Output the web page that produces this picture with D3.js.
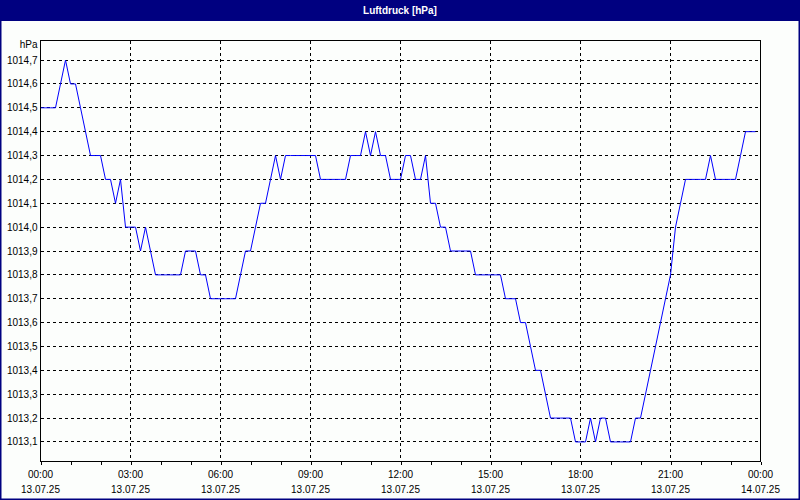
<!DOCTYPE html>
<html>
<head>
<meta charset="utf-8">
<script src="https://cdn.jsdelivr.net/npm/d3@7"></script>
<style>
    body { margin: 0; background: #fcfefc; }
    .chart text { font-family: "Liberation Sans", Arial, sans-serif; font-size: 10px; fill: #000; }
</style>
</head>
<body>
<div class="chart"></div>
<script>
// Luftdruck chart, 13.07.25

// chart data (10 minute readings, hPa)
var startTime = new Date(2025, 6, 13, 0, 0);
var stepMinutes = 10;
var pressure = [
    1014.5, 1014.5, 1014.5, 1014.5, 1014.6, 1014.7, 1014.6, 1014.6, 1014.5, 1014.4,
    1014.3, 1014.3, 1014.3, 1014.2, 1014.2, 1014.1, 1014.2, 1014.0, 1014.0, 1014.0,
    1013.9, 1014.0, 1013.9, 1013.8, 1013.8, 1013.8, 1013.8, 1013.8, 1013.8, 1013.9,
    1013.9, 1013.9, 1013.8, 1013.8, 1013.7, 1013.7, 1013.7, 1013.7, 1013.7, 1013.7,
    1013.8, 1013.9, 1013.9, 1014.0, 1014.1, 1014.1, 1014.2, 1014.3, 1014.2, 1014.3,
    1014.3, 1014.3, 1014.3, 1014.3, 1014.3, 1014.3, 1014.2, 1014.2, 1014.2, 1014.2,
    1014.2, 1014.2, 1014.3, 1014.3, 1014.3, 1014.4, 1014.3, 1014.4, 1014.3, 1014.3,
    1014.2, 1014.2, 1014.2, 1014.3, 1014.3, 1014.2, 1014.2, 1014.3, 1014.1, 1014.1,
    1014.0, 1014.0, 1013.9, 1013.9, 1013.9, 1013.9, 1013.9, 1013.8, 1013.8, 1013.8,
    1013.8, 1013.8, 1013.8, 1013.7, 1013.7, 1013.7, 1013.6, 1013.6, 1013.5, 1013.4,
    1013.4, 1013.3, 1013.2, 1013.2, 1013.2, 1013.2, 1013.2, 1013.1, 1013.1, 1013.1,
    1013.2, 1013.1, 1013.2, 1013.2, 1013.1, 1013.1, 1013.1, 1013.1, 1013.1, 1013.2,
    1013.2, 1013.3, 1013.4, 1013.5, 1013.6, 1013.7, 1013.8, 1014.0, 1014.1, 1014.2,
    1014.2, 1014.2, 1014.2, 1014.2, 1014.3, 1014.2, 1014.2, 1014.2, 1014.2, 1014.2,
    1014.3, 1014.4, 1014.4, 1014.4
];
var yTicks = [1013.1, 1013.2, 1013.3, 1013.4, 1013.5, 1013.6, 1013.7, 1013.8,
    1013.9, 1014.0, 1014.1, 1014.2, 1014.3, 1014.4, 1014.5, 1014.6, 1014.7];
var titleText = "Luftdruck [hPa]";
var unitText = "hPa";

var svgWidth = 800;
var svgHeight = 500;

var margin = { top: 40, right: 40, bottom: 39, left: 40 };
var width = svgWidth - margin.left - margin.right;
var height = svgHeight - margin.top - margin.bottom;

var svg = d3.select(".chart")
    .append("svg")
    .attr("width", svgWidth)
    .attr("height", svgHeight)
    .style("display", "block");

// window frame + title bar
svg.append("rect")
    .attr("x", 0.5).attr("y", 0.5)
    .attr("width", svgWidth - 1).attr("height", svgHeight - 1)
    .attr("fill", "#fcfefc")
    .attr("stroke", "#000080")
    .attr("stroke-width", 2);

svg.append("rect")
    .attr("x", 0).attr("y", 0)
    .attr("width", svgWidth).attr("height", 21)
    .attr("fill", "#000080");

svg.append("text")
    .attr("x", svgWidth / 2)
    .attr("y", 14)
    .attr("text-anchor", "middle")
    .style("fill", "#fff")
    .style("font-weight", "bold")
    .text(titleText);

var data = pressure.map(function (v, i) {
    return { time: d3.timeMinute.offset(startTime, i * stepMinutes), value: v };
});

var chartGroup = svg.append("g")
    .attr("transform", `translate(${margin.left + 0.5}, ${margin.top + 0.5})`);

// Step 1: scales
var xTimeScale = d3.scaleTime()
    .domain([startTime, d3.timeDay.offset(startTime, 1)])
    .range([0, width]);

var yLinearScale = d3.scaleLinear()
    .domain([1013.018, 1014.782])
    .range([height, 0]);

// Step 2: grid lines
chartGroup.append("g")
    .selectAll("line")
    .data(yTicks)
    .enter()
    .append("line")
    .attr("x1", 0).attr("x2", width)
    .attr("y1", d => Math.round(yLinearScale(d)))
    .attr("y2", d => Math.round(yLinearScale(d)))
    .attr("stroke", "#000")
    .attr("stroke-dasharray", "3,3")
    .attr("shape-rendering", "crispEdges");

var xGrid = d3.timeHour.every(3).range(startTime, d3.timeDay.offset(startTime, 1)).slice(1);
chartGroup.append("g")
    .selectAll("line")
    .data(xGrid)
    .enter()
    .append("line")
    .attr("x1", d => Math.round(xTimeScale(d)))
    .attr("x2", d => Math.round(xTimeScale(d)))
    .attr("y1", 0).attr("y2", height)
    .attr("stroke", "#000")
    .attr("stroke-dasharray", "3,3")
    .attr("shape-rendering", "crispEdges");

// Step 3: the line
var line = d3.line()
    .x(d => xTimeScale(d.time))
    .y(d => yLinearScale(d.value));

chartGroup.append("path")
    .datum(data)
    .attr("d", line)
    .attr("fill", "none")
    .attr("stroke", "#0000ff")
    .attr("stroke-width", 1);

// plot border
chartGroup.append("rect")
    .attr("x", 0).attr("y", 0)
    .attr("width", width).attr("height", height)
    .attr("fill", "none")
    .attr("stroke", "#000")
    .attr("shape-rendering", "crispEdges");

// Step 4: axes
var bottomAxis = d3.axisBottom(xTimeScale)
    .ticks(d3.timeHour.every(1))
    .tickSize(3)
    .tickFormat("");

chartGroup.append("g")
    .attr("transform", `translate(0, ${height})`)
    .call(bottomAxis)
    .call(g => g.select(".domain").remove())
    .selectAll("line")
    .attr("stroke", "#000")
    .attr("shape-rendering", "crispEdges");

var labelTimes = d3.timeHour.every(3).range(startTime, d3.timeMinute.offset(d3.timeDay.offset(startTime, 1), 1));
var fmtTime = d3.timeFormat("%H:%M");
var fmtDate = d3.timeFormat("%d.%m.%y");

var xLabels = chartGroup.append("g")
    .selectAll("g")
    .data(labelTimes)
    .enter()
    .append("g")
    .attr("transform", d => `translate(${xTimeScale(d)}, ${height})`);

xLabels.append("text")
    .attr("y", 16)
    .attr("text-anchor", "middle")
    .text(d => fmtTime(d));

xLabels.append("text")
    .attr("y", 31)
    .attr("text-anchor", "middle")
    .text(d => fmtDate(d));

var fmtValue = d3.format(".1f");
chartGroup.append("g")
    .selectAll("text")
    .data(yTicks)
    .enter()
    .append("text")
    .attr("x", -3)
    .attr("y", d => Math.round(yLinearScale(d)))
    .attr("dy", "0.35em")
    .attr("text-anchor", "end")
    .text(d => fmtValue(d).replace(".", ","));

chartGroup.append("text")
    .attr("x", -3)
    .attr("y", 7)
    .attr("text-anchor", "end")
    .text(unitText);
</script>
</body>
</html>
